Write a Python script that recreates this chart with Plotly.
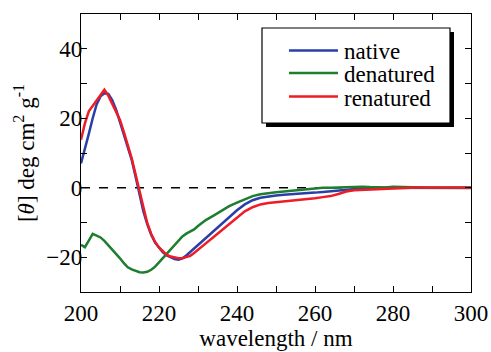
import plotly.graph_objects as go

wavelength = list(range(200, 231)) + list(range(232, 301, 2))

native = [7.0, 11.0, 15.5, 20.0, 24.0, 26.3, 27.2, 27.0, 25.2, 22.5,
          19.0, 15.5, 12.0, 8.0, 3.2, -1.5, -6.8, -10.5, -13.5, -15.8,
          -17.3, -18.6, -19.5, -20.1, -20.5, -20.7, -20.3, -19.5, -18.5, -17.5,
          -16.5,
          -14.5, -12.7, -10.5, -8.5, -6.5, -4.8, -3.6, -2.9, -2.5, -2.2,
          -2.0, -1.9, -1.8, -1.6, -1.4, -1.2, -1.0, -0.8, -0.5, -0.3,
          -0.1, 0.0, 0.0, 0.0, -0.1, -0.1, -0.1, -0.1, -0.1, -0.1,
          -0.1, -0.1, -0.1, -0.1, -0.1]

denatured = [-16.4, -17.1, -15.2, -13.3, -13.8, -14.3, -15.3, -16.5, -17.8, -19.0,
             -20.3, -21.7, -22.9, -23.5, -23.9, -24.3, -24.4, -24.2, -23.6, -22.7,
             -21.5, -20.3, -19.0, -17.8, -16.5, -15.2, -14.0, -13.2, -12.6, -12.0,
             -11.0,
             -9.3, -8.0, -6.6, -5.3, -4.3, -3.3, -2.4, -1.9, -1.5, -1.3,
             -1.1, -0.9, -0.7, -0.4, -0.1, 0.0, 0.0, 0.1, 0.1, 0.2,
             0.3, 0.2, 0.1, 0.1, 0.3, 0.2, 0.1, 0.0, -0.1, 0.0,
             0.0, 0.1, 0.0, 0.0, 0.0]

renatured = [13.8, 18.5, 22.0, 23.5, 25.2, 26.5, 28.2, 26.5, 24.3, 22.0,
             19.5, 16.0, 12.5, 8.5, 3.8, -1.0, -6.3, -10.2, -13.3, -15.6,
             -17.2, -18.4, -19.3, -19.8, -20.1, -20.3, -20.3, -20.0, -19.6, -18.8,
             -17.8,
             -16.0, -14.2, -12.3, -10.4, -8.5, -6.8, -5.6, -4.8, -4.4, -4.2,
             -3.9, -3.7, -3.5, -3.3, -3.0, -2.7, -2.4, -1.8, -1.1, -0.7,
             -0.6, -0.5, -0.4, -0.2, 0.0, 0.1, 0.1, 0.1, 0.1, 0.1,
             0.1, 0.1, 0.1, 0.1, 0.1]

series_names = ["native", "denatured", "renatured"]
series_colors = ["#2a3ea8", "#1e7d2e", "#ee1c25"]
series_values = [native, denatured, renatured]

x_ticks = [200, 220, 240, 260, 280, 300]
y_ticks = [-20, 0, 20, 40]

FONT = "Liberation Serif"

fig = go.Figure()
for name, color, vals in zip(series_names, series_colors, series_values):
    fig.add_trace(go.Scatter(x=wavelength, y=vals, mode="lines", name=name,
                             line=dict(color=color, width=2.5),
                             showlegend=False))

L, R, T, B = 81, 471, 14, 292
def px(xp):
    return (xp - L) / (R - L)
def py(yp):
    return (B - yp) / (B - T)

shapes = [
    dict(type="line", xref="x domain", yref="y", x0=0, x1=1, y0=0, y1=0,
         line=dict(color="black", width=1.5, dash="dash"), layer="below"),
    dict(type="rect", xref="paper", yref="paper", x0=px(266), x1=px(454),
         y0=py(127), y1=py(32), fillcolor="black", line=dict(width=0)),
    dict(type="rect", xref="paper", yref="paper", x0=px(262), x1=px(450),
         y0=py(123), y1=py(28), fillcolor="white",
         line=dict(color="black", width=1.2)),
]
annotations = []
line_y = [50.5, 73, 96.5]
text_y = [51.5, 74.5, 98]
for name, color, ly, ty in zip(series_names, series_colors, line_y, text_y):
    shapes.append(dict(type="line", xref="paper", yref="paper",
                       x0=px(289), x1=px(338), y0=py(ly), y1=py(ly),
                       line=dict(color=color, width=2.5)))
    annotations.append(dict(text=name, xref="paper", yref="paper",
                            x=px(342), y=py(ty), xanchor="left", yanchor="middle",
                            showarrow=False, font=dict(family=FONT, size=23, color="black")))

axis_common = dict(showline=True, linecolor="black", linewidth=1.3, mirror="ticks",
                   ticks="inside", ticklen=6, tickwidth=1.2, tickcolor="black",
                   showgrid=False, zeroline=False, automargin=False,
                   tickfont=dict(family=FONT, size=23, color="black"))

fig.update_layout(
    width=491, height=352,
    margin=dict(l=L, r=491 - R, t=T, b=352 - B),
    paper_bgcolor="white", plot_bgcolor="white",
    font=dict(family=FONT, size=23, color="black"),
    shapes=shapes, annotations=annotations,
    xaxis=dict(range=[200, 300], tickvals=x_ticks,
               minor=dict(dtick=10, ticks="inside", ticklen=6, tickcolor="black", tickwidth=1.2),
               title=dict(text="wavelength / nm", font=dict(family=FONT, size=23, color="black"),
                          standoff=4),
               **axis_common),
    yaxis=dict(range=[-30, 50], tickvals=y_ticks, ticklabelstandoff=-7,
               minor=dict(dtick=10, ticks="inside", ticklen=6, tickcolor="black", tickwidth=1.2),
               title=dict(text="[<i>θ</i>] deg cm<sup>2</sup> g<sup>-1</sup>",
                          font=dict(family=FONT, size=23, color="black"), standoff=5),
               **axis_common),
)

fig.write_html("out.html", config={"displayModeBar": False},
               post_script="document.body.style.margin='0';document.body.style.overflow='hidden';")
